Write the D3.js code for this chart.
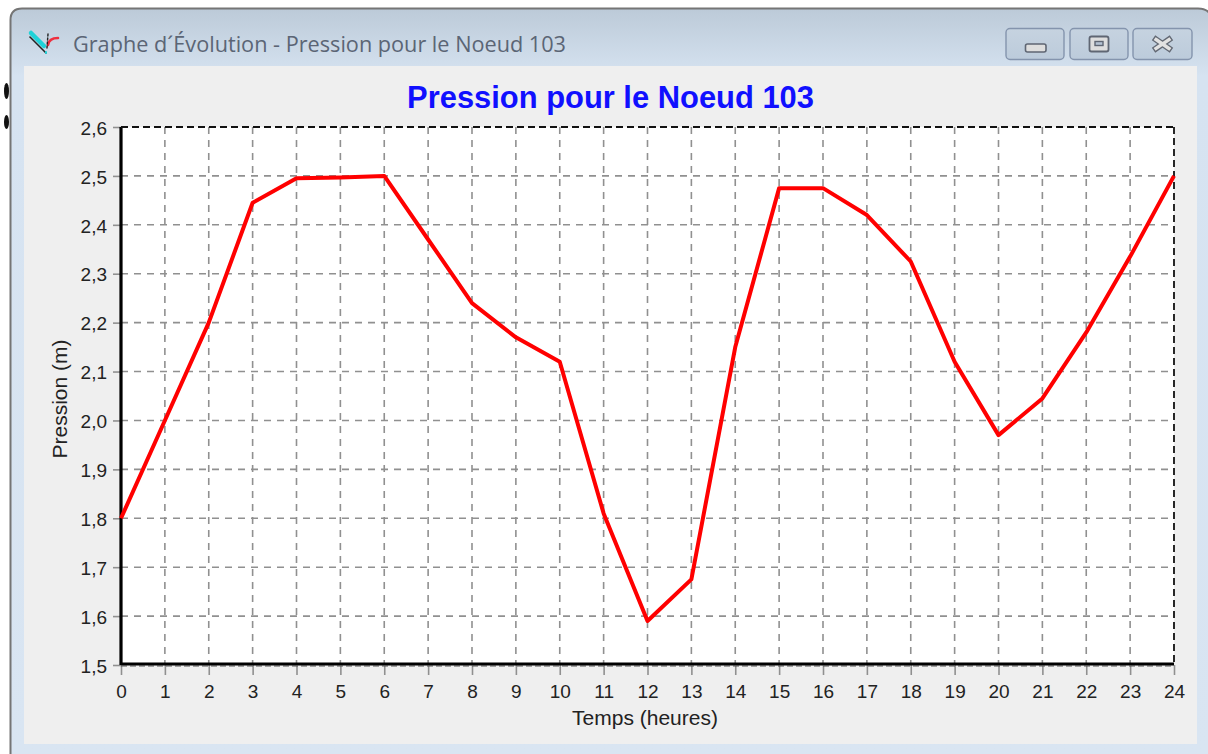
<!DOCTYPE html>
<html>
<head>
<meta charset="utf-8">
<script src="https://cdn.jsdelivr.net/npm/d3@7"></script>
<style>
  html, body { margin: 0; padding: 0; background: #fff; }
  svg { display: block; }
  text { font-family: "Liberation Sans", Arial, sans-serif; fill: #111; }
</style>
</head>
<body>
<div id="chart"></div>
<script>
var svgWidth = 1208;
var svgHeight = 754;

var windowTitle = "Graphe d\u00b4\u00c9volution - Pression pour le Noeud 103";
var chartTitle = "Pression pour le Noeud 103";
var xLabel = "Temps (heures)";
var yLabel = "Pression (m)";

var hours = [0, 1, 2, 3, 4, 5, 6, 7, 8, 9, 10, 11, 12, 13, 14, 15, 16, 17, 18, 19, 20, 21, 22, 23, 24];
var pressure = [1.80, 2.00, 2.20, 2.445, 2.495, 2.497, 2.50, 2.37, 2.24, 2.17, 2.12, 1.81, 1.59, 1.675, 2.15,
  2.475, 2.475, 2.42, 2.325, 2.12, 1.97, 2.045, 2.18, 2.335, 2.50];
var yTicks = [1.5, 1.6, 1.7, 1.8, 1.9, 2.0, 2.1, 2.2, 2.3, 2.4, 2.5, 2.6];

var margin = { top: 127, right: 34, bottom: 89, left: 121 };
var width = svgWidth - margin.left - margin.right;
var height = svgHeight - margin.top - margin.bottom;

var svg = d3.select("#chart")
  .append("svg")
  .attr("width", svgWidth)
  .attr("height", svgHeight);

// Window frame
var defs = svg.append("defs");
var frameGrad = defs.append("linearGradient")
  .attr("id", "frameGrad")
  .attr("x1", 0).attr("y1", 0).attr("x2", 0).attr("y2", 1);
frameGrad.append("stop").attr("offset", "0%").attr("stop-color", "#bccad8");
frameGrad.append("stop").attr("offset", "9%").attr("stop-color", "#d6e3f1");
frameGrad.append("stop").attr("offset", "100%").attr("stop-color", "#d9e5f2");

var btnGrad = defs.append("linearGradient")
  .attr("id", "btnGrad")
  .attr("x1", 0).attr("y1", 0).attr("x2", 0).attr("y2", 1);
btnGrad.append("stop").attr("offset", "0%").attr("stop-color", "#c6d3e0");
btnGrad.append("stop").attr("offset", "100%").attr("stop-color", "#bccbdb");

svg.append("path")
  .attr("d", "M10.5,760 V20 Q10.5,8.5 22,8.5 H1198 Q1207.5,9 1210,14 V760")
  .attr("fill", "url(#frameGrad)")
  .attr("stroke", "#757575")
  .attr("stroke-width", 2);

svg.append("rect")
  .attr("x", 24).attr("y", 66)
  .attr("width", 1173).attr("height", 678)
  .attr("fill", "#efefef");

// Small black marks just outside the window on the left
svg.append("ellipse").attr("cx", 6.5).attr("cy", 91).attr("rx", 2.5).attr("ry", 8).attr("fill", "#111");
svg.append("ellipse").attr("cx", 6.5).attr("cy", 122).attr("rx", 2.5).attr("ry", 7).attr("fill", "#111");

// Title bar icon
var icon = svg.append("g").attr("fill", "none").attr("stroke-linecap", "round");
icon.append("path").attr("d", "M31,33 L44,46").attr("stroke", "#1fd2d8").attr("stroke-width", 4.5);
icon.append("path").attr("d", "M30,37 L46,53").attr("stroke", "#222").attr("stroke-width", 1.6);
icon.append("path").attr("d", "M46,52 L46,53").attr("stroke", "#1fd2d8").attr("stroke-width", 2);
icon.append("path").attr("d", "M48,45 Q49,38 58,38").attr("stroke", "#ee2f3f").attr("stroke-width", 2.6);
icon.append("path").attr("d", "M48,34 L47,48").attr("stroke", "#222").attr("stroke-width", 1.4).attr("stroke-dasharray", "2,2");

svg.append("text")
  .attr("x", 73).attr("y", 52)
  .attr("font-size", 21)
  .style("font-family", "'Open Sans', 'Noto Sans', sans-serif")
  .style("fill", "#5b6575")
  .attr("textLength", 493)
  .attr("lengthAdjust", "spacingAndGlyphs")
  .text(windowTitle);

// Window buttons
var buttons = [[1006, 58], [1070, 58], [1133, 59]];
svg.selectAll(".winbtn")
  .data(buttons)
  .enter()
  .append("rect")
  .attr("class", "winbtn")
  .attr("x", d => d[0]).attr("y", 28.5)
  .attr("width", d => d[1]).attr("height", 31)
  .attr("rx", 4)
  .attr("fill", "url(#btnGrad)")
  .attr("stroke", "#8494ad")
  .attr("stroke-width", 1.4);

svg.append("rect").attr("x", 1025.5).attr("y", 44).attr("width", 20.5).attr("height", 8).attr("rx", 2)
  .attr("fill", "#dedede").attr("stroke", "#5f6673").attr("stroke-width", 1.6);
svg.append("rect").attr("x", 1089.5).attr("y", 36.5).attr("width", 19).attr("height", 15).attr("rx", 2)
  .attr("fill", "#dedede").attr("stroke", "#5f6673").attr("stroke-width", 1.8);
svg.append("rect").attr("x", 1095).attr("y", 41.5).attr("width", 8).attr("height", 4)
  .attr("fill", "#b4c2d2").attr("stroke", "#5f6673").attr("stroke-width", 1.4);
svg.append("path").attr("d", "M1156,39.5 L1169,48.5 M1169,39.5 L1156,48.5")
  .attr("stroke", "#626873").attr("stroke-width", 6).attr("stroke-linecap", "square").attr("fill", "none");
svg.append("path").attr("d", "M1156,39.5 L1169,48.5 M1169,39.5 L1156,48.5")
  .attr("stroke", "#e2e2e2").attr("stroke-width", 3.4).attr("stroke-linecap", "square").attr("fill", "none");

// Chart
var chartGroup = svg.append("g")
  .attr("transform", `translate(${margin.left}, ${margin.top})`);

var xScale = d3.scaleLinear().domain([0, 24]).range([0, width]);
var yScale = d3.scaleLinear().domain([1.5, 2.6]).range([height, 0]);

chartGroup.append("rect")
  .attr("width", width).attr("height", height)
  .attr("fill", "#fff");

// Grid lines
chartGroup.selectAll(".vgrid")
  .data(hours.slice(1, -1))
  .enter()
  .append("line")
  .attr("class", "vgrid")
  .attr("x1", d => xScale(d)).attr("x2", d => xScale(d))
  .attr("y1", 0).attr("y2", height)
  .attr("stroke", "#909090")
  .attr("stroke-width", 1.6)
  .attr("stroke-dasharray", "7,6");

chartGroup.selectAll(".hgrid")
  .data(yTicks.slice(1, -1))
  .enter()
  .append("line")
  .attr("class", "hgrid")
  .attr("x1", 0).attr("x2", width)
  .attr("y1", d => yScale(d)).attr("y2", d => yScale(d))
  .attr("stroke", "#909090")
  .attr("stroke-width", 1.6)
  .attr("stroke-dasharray", "7,6");

// Axes
var commaFormat = d => d3.format(".1f")(d).replace(".", ",");

var bottomAxis = d3.axisBottom(xScale)
  .tickValues(hours)
  .tickFormat(d3.format("d"))
  .tickSize(10)
  .tickPadding(10);

var leftAxis = d3.axisLeft(yScale)
  .tickValues(yTicks)
  .tickFormat(commaFormat)
  .tickSize(8)
  .tickPadding(6);

var xAxisGroup = chartGroup.append("g")
  .attr("transform", `translate(0, ${height})`)
  .call(bottomAxis);

var yAxisGroup = chartGroup.append("g")
  .call(leftAxis);

[xAxisGroup, yAxisGroup].forEach(function(g) {
  g.select(".domain").remove();
  g.selectAll(".tick line").attr("stroke", "#909090").attr("stroke-width", 1.6);
  g.selectAll("text")
    .attr("font-size", 19)
    .style("font-family", "'Liberation Sans', Arial, sans-serif")
    .style("fill", "#222");
});
yAxisGroup.selectAll("text").attr("dy", "0.38em");

// Plot border: solid left and bottom, dashed top and right
chartGroup.append("line")
  .attr("x1", 0).attr("x2", 0).attr("y1", 0).attr("y2", height)
  .attr("stroke", "#000").attr("stroke-width", 3.2);
chartGroup.append("line")
  .attr("x1", 0).attr("x2", width).attr("y1", height - 1).attr("y2", height - 1)
  .attr("stroke", "#000").attr("stroke-width", 3);
chartGroup.append("line")
  .attr("x1", 0).attr("x2", width).attr("y1", height + 0.8).attr("y2", height + 0.8)
  .attr("stroke", "#555").attr("stroke-width", 1.6).attr("stroke-dasharray", "6,3");
chartGroup.append("line")
  .attr("x1", 0).attr("x2", width).attr("y1", 0).attr("y2", 0)
  .attr("stroke", "#111").attr("stroke-width", 1.8).attr("stroke-dasharray", "7,4");
chartGroup.append("line")
  .attr("x1", width).attr("x2", width).attr("y1", 0).attr("y2", height)
  .attr("stroke", "#111").attr("stroke-width", 1.8).attr("stroke-dasharray", "7,4");

// Series
var line = d3.line()
  .x((d, i) => xScale(hours[i]))
  .y(d => yScale(d));

chartGroup.append("path")
  .datum(pressure)
  .attr("d", line)
  .attr("fill", "none")
  .attr("stroke", "#ff0000")
  .attr("stroke-width", 4)
  .attr("stroke-linejoin", "round");

// Titles and axis labels
svg.append("text")
  .attr("x", 610.5).attr("y", 108)
  .attr("text-anchor", "middle")
  .attr("font-size", 30.9)
  .attr("font-weight", "bold")
  .style("fill", "#1010ff")
  .text(chartTitle);

svg.append("text")
  .attr("x", 645).attr("y", 725)
  .attr("text-anchor", "middle")
  .attr("font-size", 21)
  .style("fill", "#222")
  .text(xLabel);

svg.append("text")
  .attr("transform", "translate(67, 399) rotate(-90)")
  .attr("text-anchor", "middle")
  .attr("font-size", 21)
  .style("fill", "#222")
  .text(yLabel);
</script>
</body>
</html>
